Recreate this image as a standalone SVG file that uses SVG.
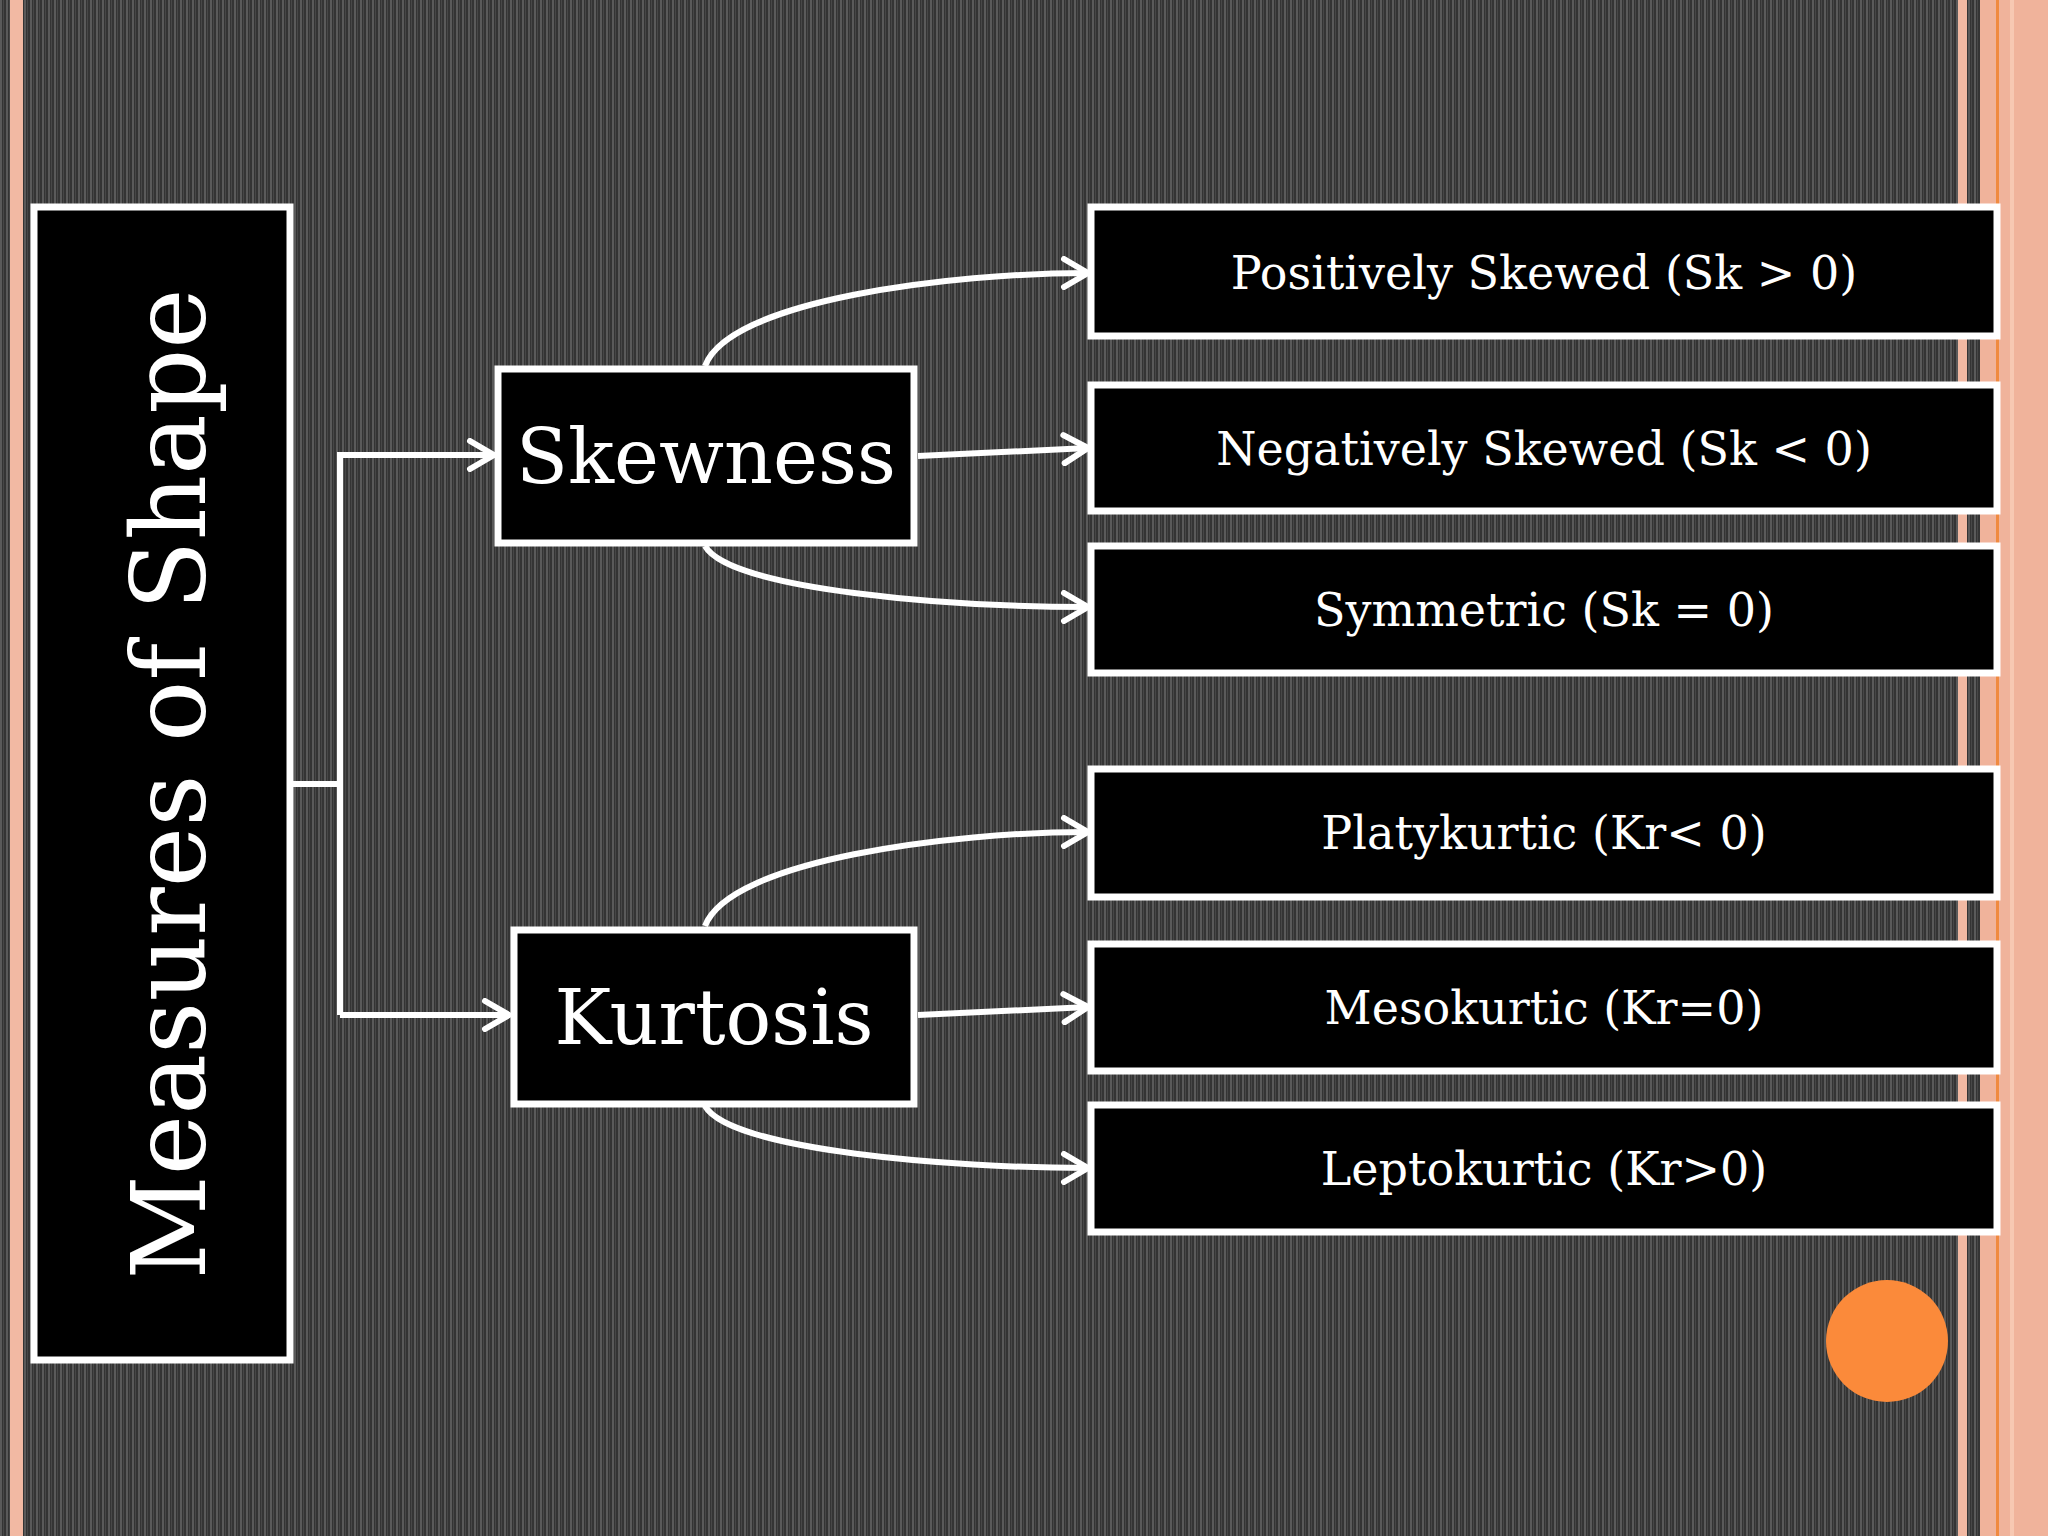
<svg xmlns="http://www.w3.org/2000/svg" width="2048" height="1536" viewBox="0 0 2048 1536">
<defs>
<pattern id="bg" width="6" height="6" patternUnits="userSpaceOnUse"><rect width="6" height="6" fill="#343434"/><rect x="0" width="2" height="6" fill="#5a5a5a"/><rect x="3" width="1" height="6" fill="#474747"/></pattern>
<marker id="ah" viewBox="0 0 34 34" refX="30" refY="17" markerWidth="34" markerHeight="34" markerUnits="userSpaceOnUse" orient="auto"><path d="M6,3 L30,17 L6,31" fill="none" stroke="#fff" stroke-width="6" stroke-linecap="round" stroke-linejoin="round"/></marker>
<style>
.box{fill:#000;stroke:#fff;stroke-width:7}
.t{fill:#fff;font-family:"DejaVu Serif","Liberation Serif",serif;text-anchor:middle}
.s{font-size:46px}
.c{fill:none;stroke:#fff;stroke-width:6;marker-end:url(#ah)}
</style>
</defs>
<rect width="2048" height="1536" fill="url(#bg)"/>
<rect x="10" y="0" width="13" height="1536" fill="#f2b9a3"/>
<rect x="1958" y="0" width="9" height="1536" fill="#f2b9a3"/>
<rect x="1980" y="0" width="68" height="1536" fill="#f0b39b"/>
<rect x="1996" y="0" width="3" height="1536" fill="#f08a40"/>
<rect x="2010" y="0" width="4" height="1536" fill="#f7c8b2"/>
<g id="connectors">
<path d="M290,784 H340" fill="none" stroke="#fff" stroke-width="6"/>
<path class="c" d="M340,1015 V455 H494"/>
<path class="c" d="M340,1015 H509"/>
<path class="c" d="M705,366 C730,300 950,273 1088,273"/>
<path class="c" d="M918,456 L1088,448"/>
<path class="c" d="M705,546 C730,590 950,607 1088,607"/>
<path class="c" d="M705,926 C730,860 950,832 1088,832"/>
<path class="c" d="M918,1015 L1088,1007"/>
<path class="c" d="M705,1106 C730,1150 950,1168 1088,1168"/>
</g>
<g id="main"><rect class="box" x="34" y="207" width="256" height="1153"/><text class="t" font-size="102" transform="translate(205,784) rotate(-90)">Measures of Shape</text></g>
<g id="skew"><rect class="box" x="498" y="369" width="416" height="174"/><text class="t" font-size="76" x="706" y="483">Skewness</text></g>
<g id="kurt"><rect class="box" x="514" y="930" width="400" height="174"/><text class="t" font-size="76" x="714" y="1044">Kurtosis</text></g>
<g id="pos"><rect class="box" x="1091" y="207" width="906" height="129"/><text class="t s" x="1544" y="289">Positively Skewed (Sk &gt; 0)</text></g>
<g id="neg"><rect class="box" x="1091" y="385" width="906" height="126"/><text class="t s" x="1544" y="465">Negatively Skewed (Sk &lt; 0)</text></g>
<g id="sym"><rect class="box" x="1091" y="546" width="906" height="127"/><text class="t s" x="1544" y="626">Symmetric (Sk = 0)</text></g>
<g id="platy"><rect class="box" x="1091" y="769" width="906" height="128"/><text class="t s" x="1544" y="849">Platykurtic (Kr&lt; 0)</text></g>
<g id="meso"><rect class="box" x="1091" y="944" width="906" height="127"/><text class="t s" x="1544" y="1024">Mesokurtic (Kr=0)</text></g>
<g id="lepto"><rect class="box" x="1091" y="1105" width="906" height="127"/><text class="t s" x="1544" y="1185">Leptokurtic (Kr&gt;0)</text></g>
<circle cx="1887" cy="1341" r="61" fill="#fb8a3a"/>
</svg>
